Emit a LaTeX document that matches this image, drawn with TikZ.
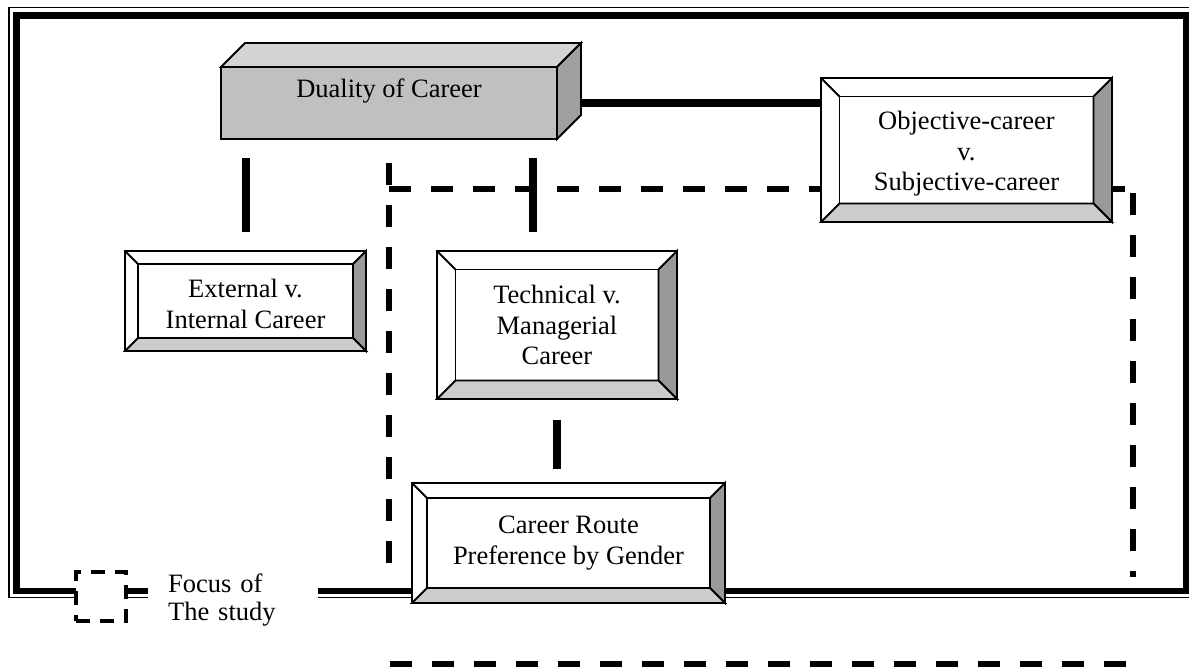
\documentclass[tikz,border=0pt]{standalone}
\usepackage{fontspec}
\setmainfont{Liberation Serif}
\definecolor{facefront}{HTML}{C0C0C0}
\definecolor{facetop}{HTML}{D4D4D4}
\definecolor{faceside}{HTML}{A0A0A0}
\definecolor{bevdark}{HTML}{999999}
\definecolor{bevlight}{HTML}{CCCCCC}
\tikzset{
  lbl/.style={font=\fontsize{26.5}{30.5}\selectfont, align=center},
  edgeline/.style={line width=1.8pt, line join=miter},
  bevbox/.style={draw, edgeline, fill=white, outer sep=0pt, inner sep=0pt, lbl},
  cubeface/.style={draw, edgeline, fill=facefront, outer sep=0pt, inner sep=0pt, lbl},
  solidconn/.style={line width=8pt},
  dashconn/.style={line width=6.5pt, dash pattern=on 22pt off 20pt},
  thinframe/.style={line width=1.5pt},
  thickframe/.style={line width=6.5pt},
  legendbox/.style={draw, line width=3.5pt, dash pattern=on 14pt off 10pt, fill=white, outer sep=0pt, inner sep=0pt},
}
\newcommand\bevelring[2]{%
  \filldraw[edgeline, fill=bevdark] (#1.north east) -- (#1.south east) -- ([shift={(-#2,-#2)}]#1.south east) -- ([shift={(-#2,#2)}]#1.north east) -- cycle;
  \filldraw[edgeline, fill=bevlight] (#1.south west) -- (#1.south east) -- ([shift={(-#2,-#2)}]#1.south east) -- ([shift={(#2,-#2)}]#1.south west) -- cycle;
  \draw[edgeline] (#1.north west) -- ([shift={(#2,#2)}]#1.north west);
  \draw[edgeline] ([shift={(#2,#2)}]#1.north west) rectangle ([shift={(-#2,-#2)}]#1.south east);
  \draw[edgeline] (#1.north west) rectangle (#1.south east);
}
\begin{document}
\begin{tikzpicture}[x=1pt, y=-1pt]
\path[use as bounding box] (0,0) rectangle (1189,669);

% double frame
\draw[thinframe] (9,7.5) rectangle (1192,597.5);
\draw[thickframe] (16.5,15.5) rectangle (1186,591);

% dashed focus region
\coordinate (dl1) at (389,163);
\coordinate (dl2) at (389,567);
\coordinate (dt1) at (389,189);
\coordinate (dt2) at (1136,189);
\coordinate (dr1) at (1133,193);
\coordinate (dr2) at (1133,577);
\coordinate (db1) at (390,664);
\coordinate (db2) at (1128,664);
\draw[dashconn] (dl1) -- (dl2);
\draw[dashconn] (dt1) -- (dt2);
\draw[dashconn] (dr1) -- (dr2);
\draw[dashconn] (db1) -- (db2);

% Duality of Career cube
\node[cubeface, minimum width=336pt, minimum height=72pt, text height=18pt, text depth=28pt] (dual) at (389,103) {Duality of Career};
\filldraw[edgeline, fill=facetop] (dual.north west) -- ++(24,-24) -- ([shift={(24,-24)}]dual.north east) -- (dual.north east) -- cycle;
\filldraw[edgeline, fill=faceside] (dual.north east) -- ([shift={(24,-24)}]dual.north east) -- ([shift={(24,-24)}]dual.south east) -- (dual.south east) -- cycle;

% bevel boxes
\node[bevbox, minimum width=291pt, minimum height=144pt, text height=87pt] (obj) at (966.5,150) {Objective-career\\v.\\Subjective-career};
\bevelring{obj}{18.5}
\node[bevbox, minimum width=241pt, minimum height=100pt, text height=54.6pt] (ext) at (245.5,301) {External v.\\Internal Career};
\bevelring{ext}{13}
\node[bevbox, minimum width=240pt, minimum height=148pt] (tech) at (557,325) {Technical v.\\Managerial\\Career};
\bevelring{tech}{18.5}

% connectors
\draw[solidconn] ([xshift=24pt]dual.east) -- (obj.west |- dual.east);
\draw[solidconn] ([yshift=-19pt]dual.south -| ext.north) -- ([yshift=19pt]ext.north);
\coordinate (tc1) at (533,158);
\coordinate (tc2) at (533,232);
\draw[solidconn] (tc1) -- (tc2);

\node[bevbox, minimum width=313pt, minimum height=120pt] (career) at (568.5,543) {Career Route\\Preference by Gender};
\bevelring{career}{15}
\draw[solidconn] ([yshift=-21pt]tech.south) -- ([yshift=14pt]career.north -| tech.south);

% legend
\node[legendbox, minimum width=50pt, minimum height=49pt] (focusbox) at (101,596.5) {};
\node[fill=white, anchor=west, inner xsep=20pt, inner ysep=2pt, text width=130pt, align=left, font=\fontsize{26.5}{28}\selectfont] (focustext) at (148,600) {Focus of\\The study};
\end{tikzpicture}
\end{document}
